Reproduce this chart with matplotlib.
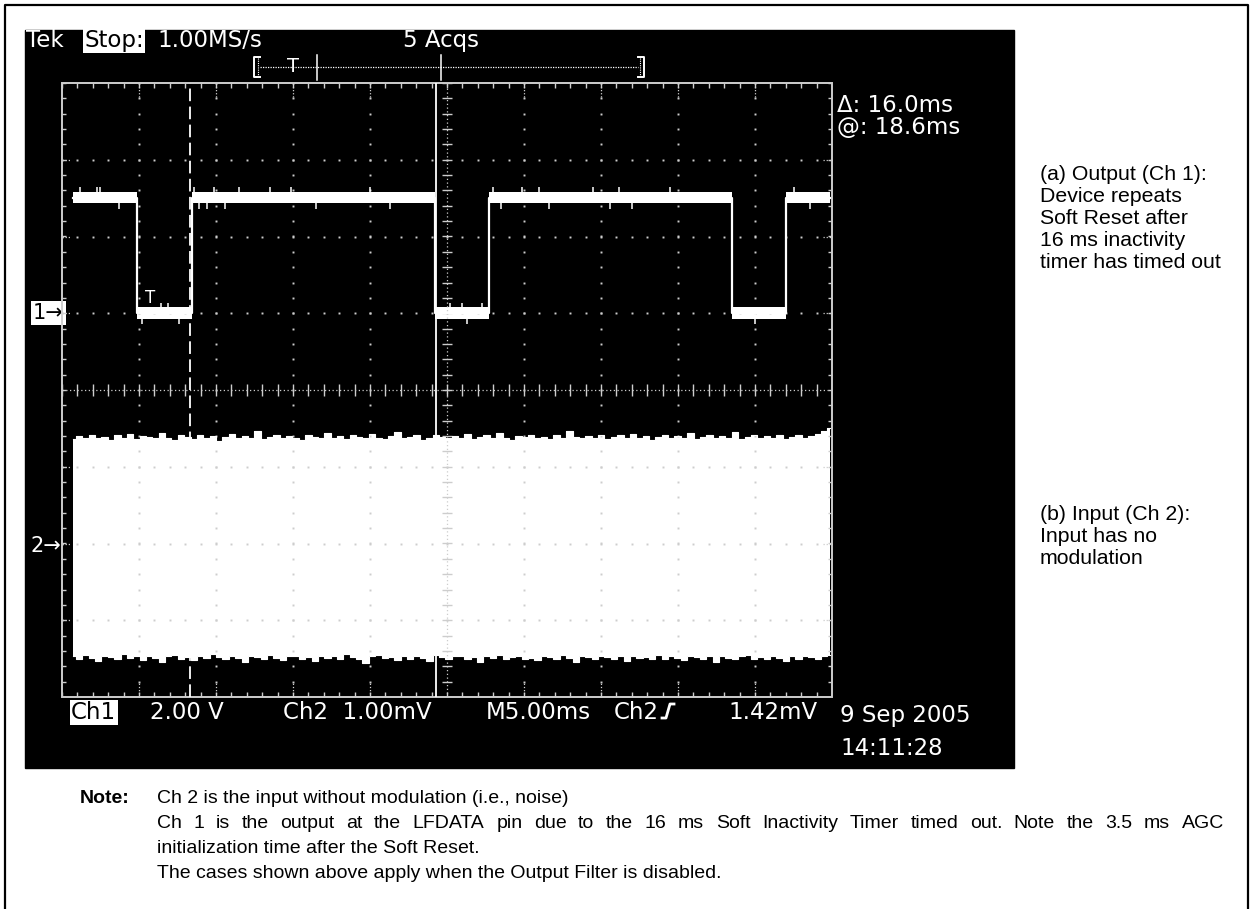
import numpy as np
import matplotlib.pyplot as plt
from matplotlib.patches import Rectangle

W, H = 1253, 909
DPI = 100

# ---- scope settings ----
ms_per_div = 5.0
ch1_volts_div = 2.0
ch2_mv_div = 1.0
ch1_ref_div = 1.0      # "1->" marker, divisions above centre
ch2_ref_div = -2.0     # "2->" marker
cursor1_ms = 8.3
cursor_delta_ms = 16.0

# ---- Ch1 (output at LFDATA), time in ms from left of graticule, volts ----
ch1_t = [0.7, 4.85, 4.85, 8.45, 8.45, 24.2, 24.2, 27.7, 27.7, 43.5, 43.5, 47.0, 47.0, 49.9]
ch1_v = [3.0, 3.0, 0.0, 0.0, 3.0, 3.0, 0.0, 0.0, 3.0, 3.0, 0.0, 0.0, 3.0, 3.0]

# little glitches sticking out of the Ch1 trace (time ms, tip volts)
spike_t = [1.2, 2.3, 2.45, 3.7, 5.2, 6.4, 6.9, 7.6, 8.6, 8.9, 9.4, 9.9, 10.6, 11.5,
           13.5, 14.9, 16.5, 20.0, 21.3, 25.2, 26.0, 26.3, 27.3, 28.0, 28.5, 29.9,
           31.0, 31.6, 34.5, 35.6, 36.2, 37.0, 39.5, 45.0, 47.5, 48.6]
spike_v = [3.28, 3.28, 3.28, 2.72, -0.28, 0.28, 0.28, -0.28, 3.28, 2.72, 2.72, 3.28, 2.72, 3.28,
           3.28, 3.28, 2.72, 3.28, 2.72, 0.28, 0.28, -0.28, 0.28, 3.28, 2.72, 3.28,
           3.28, 2.72, 3.28, 2.72, 3.28, 2.72, 3.28, -0.28, 3.28, 2.72]

# ---- Ch2 (input noise) envelope, mV ----
ch2_start, ch2_end = 0.7, 49.9
ch2_top = [1.36, 1.40, 1.38, 1.42, 1.37, 1.39, 1.35, 1.41, 1.38, 1.43, 1.36, 1.40,
           1.39, 1.37, 1.44, 1.38, 1.35, 1.41, 1.39, 1.36, 1.42, 1.38, 1.40, 1.34,
           1.39, 1.43, 1.37, 1.40, 1.38, 1.46, 1.36, 1.39, 1.41, 1.37, 1.40, 1.38,
           1.35, 1.42, 1.39, 1.37, 1.44, 1.38, 1.40, 1.36, 1.41, 1.39, 1.37, 1.43,
           1.38, 1.36, 1.40, 1.45, 1.37, 1.39, 1.41, 1.35, 1.38, 1.42, 1.39, 1.37,
           1.40, 1.38, 1.43, 1.36, 1.39, 1.41, 1.37, 1.44, 1.38, 1.35, 1.40, 1.39,
           1.42, 1.37, 1.39, 1.36, 1.41, 1.38, 1.46, 1.39, 1.37, 1.40, 1.38, 1.42,
           1.36, 1.39, 1.41, 1.37, 1.43, 1.38, 1.40, 1.35, 1.39, 1.42, 1.37, 1.40,
           1.38, 1.44, 1.36, 1.39, 1.41, 1.37, 1.40, 1.38, 1.45, 1.36, 1.39, 1.41,
           1.37, 1.40, 1.38, 1.42, 1.36, 1.39, 1.41, 1.38, 1.40, 1.43, 1.46, 1.50]
ch2_bot = [-1.47, -1.51, -1.45, -1.49, -1.53, -1.46, -1.48, -1.50, -1.44, -1.49, -1.47, -1.52,
           -1.46, -1.49, -1.55, -1.47, -1.45, -1.50, -1.48, -1.52, -1.46, -1.49, -1.44, -1.48,
           -1.51, -1.47, -1.49, -1.54, -1.46, -1.48, -1.50, -1.45, -1.49, -1.52, -1.47, -1.46,
           -1.50, -1.48, -1.53, -1.46, -1.49, -1.47, -1.51, -1.44, -1.48, -1.50, -1.56, -1.47,
           -1.45, -1.49, -1.48, -1.52, -1.46, -1.50, -1.47, -1.49, -1.53, -1.45, -1.48, -1.51,
           -1.47, -1.46, -1.50, -1.48, -1.54, -1.47, -1.49, -1.45, -1.51, -1.48, -1.46, -1.50,
           -1.49, -1.52, -1.46, -1.48, -1.50, -1.45, -1.49, -1.55, -1.47, -1.48, -1.51, -1.46,
           -1.48, -1.50, -1.47, -1.53, -1.46, -1.49, -1.48, -1.51, -1.45, -1.50, -1.47, -1.49,
           -1.52, -1.46, -1.48, -1.50, -1.47, -1.54, -1.46, -1.49, -1.51, -1.47, -1.45, -1.50,
           -1.48, -1.51, -1.46, -1.49, -1.53, -1.47, -1.50, -1.46, -1.48, -1.51, -1.47, -1.45]

# ---- text ----
side_a = "(a) Output (Ch 1):\nDevice repeats\nSoft Reset after\n16 ms inactivity\ntimer has timed out"
side_b = "(b) Input (Ch 2):\nInput has no\nmodulation"
note_lines = ["Ch 2 is the input without modulation (i.e., noise)",
              "Ch 1 is the output at the LFDATA pin due to the 16 ms Soft Inactivity Timer timed out. Note the 3.5 ms AGC",
              "initialization time after the Soft Reset.",
              "The cases shown above apply when the Output Filter is disabled."]

SCOPE_FONT = 'DejaVu Sans'
DOC_FONT = 'Liberation Sans'
GRID = '#cdcdcd'

fig = plt.figure(figsize=(W / DPI, H / DPI), dpi=DPI)
fig.patch.set_facecolor('white')

# overlay in pixel coordinates (y down) for the frame and screen text
ov = fig.add_axes([0, 0, 1, 1])
ov.set_xlim(0, W)
ov.set_ylim(H, 0)
ov.axis('off')

ov.plot([5, 5, 1248, 1248], [H + 5, 5, 5, H + 5], color='black', lw=1.6, clip_on=False)
ov.add_patch(Rectangle((25, 30), 1014 - 25, 768 - 30, color='black', zorder=0))

st = dict(family=SCOPE_FONT, fontsize=16.5, color='white', va='baseline')
ov.text(26, 47, 'Tek', **st)
ov.text(84, 47, 'Stop:', **{**st, 'color': 'black'},
        bbox=dict(facecolor='white', edgecolor='none', pad=1.0))
ov.text(157, 47, '1.00MS/s', **st)
ov.text(403, 47, '5 Acqs', **st)

# trigger position bar
ov.plot([260, 254, 254, 260], [57, 57, 77, 77], color='white', lw=1.4)
ov.plot([258, 258], [58, 76], color='white', lw=0.8, ls=(0, (1, 1)))
ov.plot([260, 638], [67, 67], color='white', lw=0.9, ls=(0, (1, 1)))
ov.text(293, 67, 'T', family=SCOPE_FONT, fontsize=14, color='white', ha='center', va='center')
for xb in [317, 441]:
    ov.plot([xb, xb], [55, 80], color='white', lw=1.1)
ov.plot([638, 644, 644, 638], [57, 57, 77, 77], color='white', lw=1.4)
ov.plot([640, 640], [58, 76], color='white', lw=0.8, ls=(0, (1, 1)))

ov.text(837, 112, u'\u0394: %.1fms' % cursor_delta_ms, **st)
ov.text(837, 134, '@: 18.6ms', **st)

# channel reference markers
ov.text(33, 313, u'1\u2192', family=SCOPE_FONT, fontsize=15, color='black', va='center',
        bbox=dict(facecolor='white', edgecolor='none', pad=1.5))
ov.text(31, 546, u'2\u2192', family=SCOPE_FONT, fontsize=15, color='white', va='center')

# bottom readout
ov.text(71, 719, 'Ch1', **{**st, 'color': 'black'},
        bbox=dict(facecolor='white', edgecolor='none', pad=1.0))
ov.text(150, 719, '%.2f V' % ch1_volts_div, **st)
ov.text(283, 719, 'Ch2  %.2fmV' % ch2_mv_div, **st)
ov.text(486, 719, 'M%.2fms' % ms_per_div, **st)
ov.text(614, 719, 'Ch2', **st)
ov.plot([662, 666, 670, 674], [718, 718, 704, 704], color='white', lw=2)
ov.text(728, 719, '1.42mV', **st)
ov.text(840, 722, '9 Sep 2005', **st)
ov.text(840, 755, '14:11:28', **st)

# side notes
dt = dict(family=DOC_FONT, fontsize=15.3, color='black', va='top', linespacing=1.2)
ov.text(1040, 165, side_a, **dt)
ov.text(1040, 505, side_b, **dt)

# note block
nt = dict(family=DOC_FONT, fontsize=14, color='black', va='baseline')
ov.text(80, 803, 'Note:', weight='bold', **nt)
base = [803, 828, 853, 878]
for i, line in enumerate(note_lines):
    if i != 1:
        ov.text(157, base[i], line, **nt)
# justified second line
words = note_lines[1].split(' ')
wt = [ov.text(0, base[1], w, **nt) for w in words]
r = fig.canvas.get_renderer()
wd = [t.get_window_extent(r).width for t in wt]
gap = (1224 - 157 - sum(wd)) / (len(words) - 1)
xpos = 157
for t, w in zip(wt, wd):
    t.set_x(xpos)
    xpos += w + gap

# ---- graticule axes: x in ms, y in divisions ----
ax = fig.add_axes([62 / W, 1 - 697 / H, 770 / W, 614 / H])
ax.set_xlim(0, 10 * ms_per_div)
ax.set_ylim(-4, 4)
ax.axis('off')

xmin = np.arange(0, 50.01, ms_per_div / 5)
ymin = np.arange(-4, 4.01, 0.2)
ax.add_patch(Rectangle((0, -4), 50, 8, fill=False, ec=GRID, lw=1.4, clip_on=False))
for xm in np.arange(5, 50, 5):
    if xm != 25:
        ax.plot(np.full(len(ymin), xm), ymin, ls='none', marker='s', ms=1.4, color=GRID, mec='none')
        ax.plot([xm, xm], [3.82, 4], color=GRID, lw=0.9, ls=(0, (1, 1.5)))
        ax.plot([xm, xm], [-4, -3.82], color=GRID, lw=0.9, ls=(0, (1, 1.5)))
for ym in range(-3, 4):
    if ym != 0:
        ax.plot(xmin, np.full(len(xmin), ym), ls='none', marker='s', ms=1.4, color=GRID, mec='none')
        ax.plot([0, 0.6], [ym, ym], color=GRID, lw=0.9, ls=(0, (1, 1.5)))
        ax.plot([49.4, 50], [ym, ym], color=GRID, lw=0.9, ls=(0, (1, 1.5)))
# border ticks
ax.vlines(xmin, 4 - 0.06, 4, color=GRID, lw=1)
ax.vlines(xmin, -4, -4 + 0.06, color=GRID, lw=1)
ax.hlines(ymin, 0, 0.28, color=GRID, lw=1)
ax.hlines(ymin, 50 - 0.28, 50, color=GRID, lw=1)
# centre cross
ax.plot([25, 25], [-4, 4], color=GRID, lw=0.9, ls=(0, (1, 2)))
ax.plot([0, 50], [0, 0], color=GRID, lw=0.9, ls=(0, (1, 2)))
ax.hlines(ymin, 25 - 0.3, 25 + 0.3, color=GRID, lw=1)
ax.vlines(xmin, -0.08, 0.08, color=GRID, lw=1)

# Ch2 noise band
t2 = np.linspace(ch2_start, ch2_end, len(ch2_top))
top_div = ch2_ref_div + np.array(ch2_top) / ch2_mv_div
bot_div = ch2_ref_div + np.array(ch2_bot) / ch2_mv_div
ax.fill_between(t2, bot_div, top_div, step='mid', color='white', lw=0)
ax.step(t2, top_div, where='mid', color='white', lw=0.8)
ax.step(t2, bot_div, where='mid', color='white', lw=0.8)

# Ch1 trace
y1 = ch1_ref_div + np.array(ch1_v) / ch1_volts_div
ax.fill_between(ch1_t, y1 - 0.07, y1 + 0.075, color='white', lw=0)
ax.plot(ch1_t, y1, color='white', lw=1.6)
sv = np.array(spike_v)
sbase = np.where(np.abs(sv - 3.0) < 0.5, 3.0, 0.0)
ax.vlines(spike_t, ch1_ref_div + sbase / ch1_volts_div, ch1_ref_div + sv / ch1_volts_div,
          color='white', lw=1.1)
ax.text(5.75, 1.2, 'T', family=SCOPE_FONT, fontsize=12, color='white', ha='center', va='center')

# cursors
ax.axvline(cursor1_ms, color='white', lw=1.3, ls=(0, (7, 3)))
ax.axvline(cursor1_ms + cursor_delta_ms, color='white', lw=1.3)

fig.savefig('out.png', dpi=DPI, facecolor='white')
